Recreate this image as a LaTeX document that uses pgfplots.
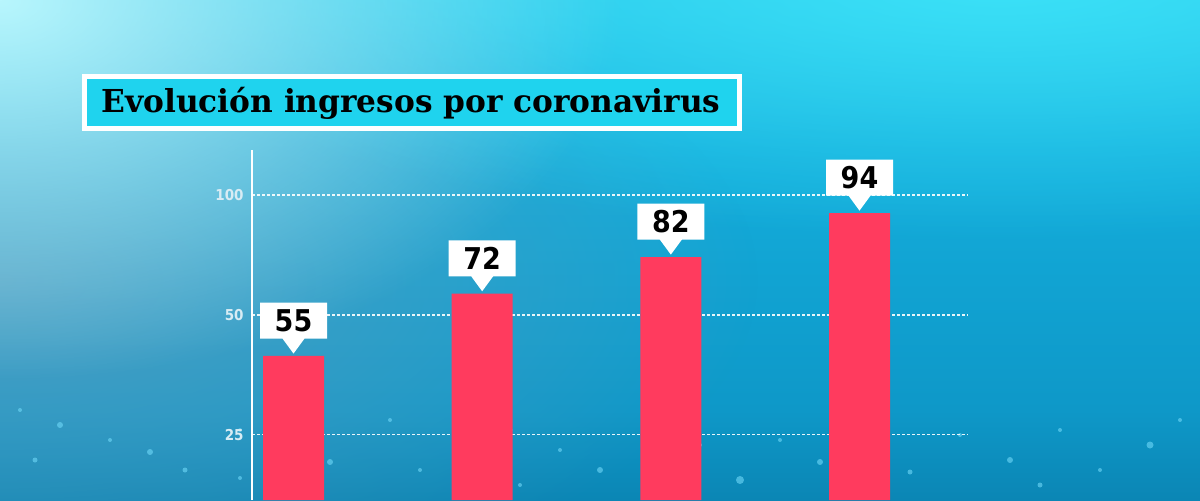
\documentclass[border=0pt]{standalone}
\usepackage{pgfplots}
\pgfplotsset{compat=1.18}
\usepackage{fontspec}
\setmainfont{DejaVu Sans}
\newfontfamily\titlefont{DejaVu Serif Condensed}
\newfontfamily\numfont{DejaVu Sans Condensed}
\usetikzlibrary{shapes.callouts,fadings}
\definecolor{barred}{HTML}{FF3B5E}
\definecolor{titlecyan}{HTML}{1FD3EE}
\definecolor{titletext}{HTML}{1A1A1A}
\definecolor{tickcol}{HTML}{D8ECF4}
\definecolor{c0}{HTML}{0E8DC0}
\definecolor{c1}{HTML}{0B86B6}
\definecolor{c2}{HTML}{0A7EAC}
\definecolor{c3}{HTML}{0E98C8}
\definecolor{c4}{HTML}{14AEDC}
\definecolor{c5}{HTML}{48E0F8}
\definecolor{lightc}{HTML}{B8F6FD}
\definecolor{toplight}{HTML}{40EAFC}
\definecolor{greyblue}{HTML}{5A9EC0}
\definecolor{sparkle}{HTML}{6FD8F8}
\pgfdeclareverticalshading{bgshade}{100bp}{color(0bp)=(c0); color(14bp)=(c1); color(21bp)=(c2); color(34bp)=(c3); color(60bp)=(c4); color(100bp)=(c5)}
\tikzfading[name=radfade, inner color=transparent!0, outer color=transparent!100]
\newsavebox\titlebox
\newlength\tlen
\begin{document}%
\sbox\titlebox{\titlefont\bfseries\fontsize{15.8}{18}\selectfont Evolución ingresos por coronavirus}%
\setlength\tlen{\wd\titlebox}%
\pgfmathsetmacro\tratio{309.5/\tlen}%
\begin{tikzpicture}[x=0.5pt,y=0.5pt]
\useasboundingbox (0,0) rectangle (1200,500);
\begin{scope}
\clip (0,0) rectangle (1200,500);
\shade[shading=bgshade] (0,0) rectangle (1200,500);
\fill[greyblue, path fading=radfade, opacity=0.85] (0,220) ellipse (760 and 340);
\fill[toplight, path fading=radfade, opacity=0.8] (1000,520) ellipse (900 and 260);
\fill[lightc, path fading=radfade] (0,500) ellipse (620 and 380);
% decorative sparkles of the backdrop
\foreach \sx/\sy/\sr in {20/90/2, 60/75/3, 110/60/2, 150/48/3, 185/30/2.5, 240/22/2, 300/60/2, 330/38/3, 390/80/2, 420/30/2,
  460/88/2, 510/70/2.5, 560/50/2, 600/30/3, 650/75/2, 700/55/2, 740/20/4, 780/60/2, 820/38/3, 870/80/2, 910/28/2.5,
  960/65/2, 1010/40/3, 1060/70/2, 1100/30/2, 1150/55/3.5, 1180/80/2, 35/40/2.5, 520/15/2, 1040/15/2.5, 880/50/2, 240/70/2} {
  \fill[sparkle, opacity=0.6] (\sx,\sy) circle (\sr);
}
\end{scope}
\begin{axis}[
  at={(126pt,0pt)}, anchor=south west,
  scale only axis, width=358pt, height=175pt,
  xmin=-0.22, xmax=3.575, ymin=15.7, ymax=111.2,
  axis x line=none, axis y line*=left,
  y axis line style={white, line width=1pt},
  xtick=\empty,
  ytick={33.5,66.2,98.9}, yticklabels={25,50,100},
  ymajorgrids,
  grid style={white, dash pattern=on 1.5pt off 1pt, line width=0.7pt, opacity=0.9},
  major tick length=0pt,
  /pgf/number format/assume math mode=true,
  yticklabel style={font=\numfont\bfseries\fontsize{7.5}{7.5}\selectfont, text=tickcol, inner sep=0pt, xshift=-4pt},
]
\addplot[ybar, fill=barred, draw=none, bar width=30.5pt,
  nodes near coords,
  every node near coord/.append style={font=\numfont\bfseries\fontsize{15}{15}\selectfont, text=black,
    shape=rectangle callout, fill=white, minimum width=33.5pt, minimum height=18pt, inner sep=0pt,
    callout relative pointer={(0pt,-7.5pt)}, callout pointer width=11pt, yshift=8.5pt}
] coordinates {(0,55) (1,72) (2,82) (3,94)};
\end{axis}
\node[draw=white, line width=2.5pt, fill=titlecyan, minimum width=327.5pt, minimum height=26pt, inner sep=0pt] at (412,397.5) {};
\node[anchor=base west, inner sep=0pt, text=titletext] at (101,388) {\scalebox{\tratio}[1]{\usebox\titlebox}};
\end{tikzpicture}%
\end{document}
